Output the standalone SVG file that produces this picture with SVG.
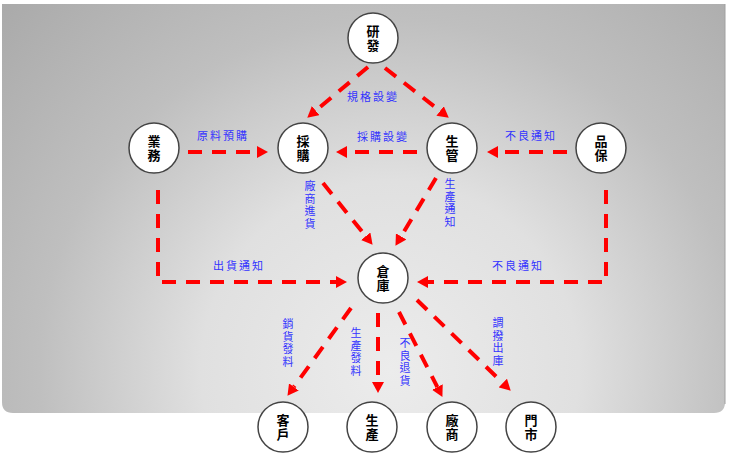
<svg xmlns="http://www.w3.org/2000/svg" width="734" height="457" viewBox="0 0 734 457">
<defs>
<radialGradient id="bg" gradientUnits="userSpaceOnUse" cx="390" cy="370" r="540">
<stop offset="0" stop-color="#ececec"/>
<stop offset="0.35" stop-color="#e0e0e0"/>
<stop offset="0.65" stop-color="#bfbfbf"/>
<stop offset="1" stop-color="#a9a9a9"/>
</radialGradient>
<marker id="ah" markerUnits="userSpaceOnUse" markerWidth="11" markerHeight="12" refX="0" refY="6" orient="auto" viewBox="0 0 11 12">
<path d="M0,0 L11,6 L0,12 z" fill="#ff0000"/>
</marker>
</defs>
<style>
.node circle{fill:#ffffff;stroke:#444444;stroke-width:1.5}
.node text{font-family:"Noto Sans CJK TC","Noto Sans CJK SC",sans-serif;font-size:13px;font-weight:bold;fill:#000000;text-anchor:middle}
.conn path{fill:none;stroke:#ff0000;stroke-width:4;stroke-dasharray:14 10;marker-end:url(#ah)}
.lbl{font-family:"Noto Sans CJK TC","Noto Sans CJK SC",sans-serif;font-size:11px;fill:#3333ff;text-anchor:middle;letter-spacing:2px}
.vl{font-family:"Noto Sans CJK TC","Noto Sans CJK SC",sans-serif;font-size:11px;fill:#3333ff;text-anchor:middle}
</style>
<path d="M2,4 H725 V402 Q725,413 714,413 H13 Q2,413 2,402 Z" fill="url(#bg)"/>
<line x1="725" y1="4" x2="725" y2="404" stroke="#a0a0a0" stroke-width="1"/>

<g id="connectors" class="conn">
<path d="M368,67 L315.7,110.6"/>
<path d="M385,68 L440.1,110.9"/>
<path d="M417,152 L347,152"/>
<path d="M188,152 L257,152"/>
<path d="M567,152 L498,152"/>
<path d="M323,183 L365.7,236.2"/>
<path d="M436,178 L401.1,236.4"/>
<path d="M158,190 V282 H336"/>
<path d="M606,190 V282 H428"/>
<path d="M351,308 L293.9,386.9"/>
<path d="M378,313 L378,382"/>
<path d="M399,312 L437.4,387.1"/>
<path d="M417,300 L502.8,383"/>
</g>

<g id="labels">
<text class="lbl" x="373" y="101">規格設變</text>
<text class="lbl" x="383" y="141">採購設變</text>
<text class="lbl" x="223" y="140">原料預購</text>
<text class="lbl" x="531" y="140">不良通知</text>
<text class="lbl" x="239" y="270">出貨通知</text>
<text class="lbl" x="518" y="270">不良通知</text>
<text class="vl"><tspan x="310" y="190">廠</tspan><tspan x="310" y="202.5">商</tspan><tspan x="310" y="215">進</tspan><tspan x="310" y="227.5">貨</tspan></text>
<text class="vl"><tspan x="450" y="188">生</tspan><tspan x="450" y="200.5">產</tspan><tspan x="450" y="213">通</tspan><tspan x="450" y="225.5">知</tspan></text>
<text class="vl"><tspan x="288" y="328">銷</tspan><tspan x="288" y="340.5">貨</tspan><tspan x="288" y="353">發</tspan><tspan x="288" y="365.5">料</tspan></text>
<text class="vl"><tspan x="356" y="337">生</tspan><tspan x="356" y="349.5">產</tspan><tspan x="356" y="362">發</tspan><tspan x="356" y="374.5">料</tspan></text>
<text class="vl"><tspan x="405" y="347">不</tspan><tspan x="405" y="359.5">良</tspan><tspan x="405" y="372">退</tspan><tspan x="405" y="384.5">貨</tspan></text>
<text class="vl"><tspan x="498" y="327">調</tspan><tspan x="498" y="339.5">撥</tspan><tspan x="498" y="352">出</tspan><tspan x="498" y="364.5">庫</tspan></text>
</g>

<g id="n-yanfa" class="node"><circle cx="373" cy="38" r="25"/><text x="373" y="36">研</text><text x="373" y="50">發</text></g>
<g id="n-yewu" class="node"><circle cx="154" cy="148" r="25"/><text x="154" y="146">業</text><text x="154" y="160">務</text></g>
<g id="n-caigou" class="node"><circle cx="303" cy="148" r="25"/><text x="303" y="146">採</text><text x="303" y="160">購</text></g>
<g id="n-shengguan" class="node"><circle cx="452" cy="148" r="25"/><text x="452" y="146">生</text><text x="452" y="160">管</text></g>
<g id="n-pinbao" class="node"><circle cx="601" cy="148" r="25"/><text x="601" y="146">品</text><text x="601" y="160">保</text></g>
<g id="n-cangku" class="node"><circle cx="383" cy="278" r="25"/><text x="383" y="276">倉</text><text x="383" y="290">庫</text></g>
<g id="n-kehu" class="node"><circle cx="283" cy="427" r="25"/><text x="283" y="425">客</text><text x="283" y="439">戶</text></g>
<g id="n-shengchan" class="node"><circle cx="372" cy="427" r="25"/><text x="372" y="425">生</text><text x="372" y="439">產</text></g>
<g id="n-changshang" class="node"><circle cx="452" cy="427" r="25"/><text x="452" y="425">廠</text><text x="452" y="439">商</text></g>
<g id="n-menshi" class="node"><circle cx="531" cy="427" r="25"/><text x="531" y="425">門</text><text x="531" y="439">市</text></g>
</svg>
